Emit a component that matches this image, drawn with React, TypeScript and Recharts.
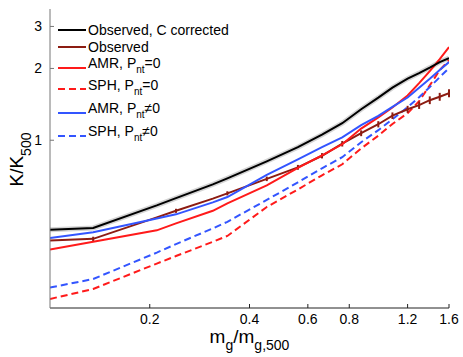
import { LineChart, Line, XAxis, YAxis, Legend, ErrorBar } from 'recharts';

// m_g / m_g,500 sample points
const massRatio = [0.1, 0.135, 0.21, 0.24, 0.31, 0.343, 0.451, 0.56, 0.662, 0.762, 0.869, 0.979, 1.08, 1.2, 1.3, 1.4, 1.5, 1.6];

// K / K500 profiles
const observedCorrected = [0.421, 0.429, 0.533, 0.572, 0.653, 0.692, 0.816, 0.935, 1.055, 1.179, 1.349, 1.508, 1.661, 1.811, 1.912, 2.017, 2.127, 2.211];
const observed = [0.380, 0.386, 0.475, 0.506, 0.569, 0.599, 0.689, 0.770, 0.861, 0.967, 1.070, 1.167, 1.268, 1.349, 1.403, 1.472, 1.522, 1.575];
const observedErr = [0, 0.008, 0, 0.01, 0, 0.012, 0.015, 0.018, 0.022, 0.026, 0.03, 0.035, 0.04, 0.045, 0.05, 0.055, 0.058, 0.06];
const amrThermal = [0.348, 0.375, 0.419, 0.448, 0.506, 0.544, 0.647, 0.766, 0.865, 0.962, 1.119, 1.246, 1.372, 1.541, 1.736, 1.950, 2.189, 2.459];
const sphThermal = [0.216, 0.238, 0.304, 0.327, 0.375, 0.397, 0.525, 0.622, 0.713, 0.793, 0.924, 1.045, 1.17, 1.298, 1.458, 1.699, 1.968, 2.168];
const amrNonThermal = [0.389, 0.411, 0.470, 0.489, 0.549, 0.578, 0.716, 0.832, 0.935, 1.029, 1.156, 1.266, 1.381, 1.510, 1.661, 1.809, 1.968, 2.127];
const sphNonThermal = [0.241, 0.262, 0.338, 0.367, 0.427, 0.455, 0.562, 0.666, 0.763, 0.849, 0.981, 1.102, 1.225, 1.376, 1.516, 1.670, 1.839, 2.007];

const xTicks = [0.2, 0.4, 0.6, 0.8, 1.2, 1.6];
const yTicks = [1, 2, 3];

const data = massRatio.map((x, i) => ({
  x,
  obsC: observedCorrected[i],
  obs: observed[i],
  obsErr: observedErr[i],
  amr0: amrThermal[i],
  sph0: sphThermal[i],
  amr1: amrNonThermal[i],
  sph1: sphNonThermal[i],
}));

const FONT = '"Liberation Sans", Arial, Helvetica, sans-serif';
const BLACK = '#000000';
const BROWN = '#8c1c12';
const RED = '#ff1a1a';
const BLUE = '#3355ff';
const DASH = '7 4';

const sub = (s: string) => (
  <span style={{ fontSize: 10, position: 'relative', top: 5 }}>{s}</span>
);

const legendRows = [
  { label: <>Observed, C corrected</>, color: BLACK, dash: undefined, lineY: 30, textY: 30 },
  { label: <>Observed</>, color: BROWN, dash: undefined, lineY: 47, textY: 47 },
  { label: <>AMR, P{sub('nt')}=0</>, color: RED, dash: undefined, lineY: 68, textY: 63 },
  { label: <>SPH, P{sub('nt')}=0</>, color: RED, dash: DASH, lineY: 89, textY: 85 },
  { label: <>AMR, P{sub('nt')}≠0</>, color: BLUE, dash: undefined, lineY: 113, textY: 108 },
  { label: <>SPH, P{sub('nt')}≠0</>, color: BLUE, dash: DASH, lineY: 136, textY: 131 },
];

const LegendBox = () => (
  <div style={{ position: 'relative', fontFamily: FONT, fontSize: 14, color: '#000' }}>
    {legendRows.map((r, i) => (
      <div key={i}>
        <svg width={28} height={6} style={{ position: 'absolute', left: 58, top: r.lineY - 3 }}>
          <line x1={0} y1={3} x2={28} y2={3} stroke={r.color} strokeWidth={2} strokeDasharray={r.dash} />
        </svg>
        <div style={{ position: 'absolute', left: 88, top: r.textY - 8, lineHeight: '16px', whiteSpace: 'nowrap' }}>
          {r.label}
        </div>
      </div>
    ))}
  </div>
);

const XLabel = ({ viewBox }: any) => (
  <text x={viewBox.x + viewBox.width / 2} y={viewBox.y + 35} textAnchor="middle" fontFamily={FONT} fontSize={19} fill="#000">
    m<tspan dy={7} fontSize={14}>g</tspan>
    <tspan dy={-7}>/m</tspan>
    <tspan dy={7} fontSize={14}>g,500</tspan>
  </text>
);

const YLabel = ({ viewBox }: any) => {
  const cx = 23;
  const cy = viewBox.y + viewBox.height / 2 + 1;
  return (
    <text x={cx} y={cy} textAnchor="middle" transform={`rotate(-90, ${cx}, ${cy})`} fontFamily={FONT} fontSize={19} fill="#000">
      K/K<tspan dy={8} fontSize={14}>500</tspan>
    </text>
  );
};

const EntropyChart = () => {
  return (
    <div style={{ position: 'absolute', left: 0, top: 0, background: '#fff' }}>
      <LineChart width={463} height={357} data={data} margin={{ top: 9, right: 14, left: 0, bottom: 0 }}>
        <XAxis
          dataKey="x"
          type="number"
          scale="log"
          domain={[0.1, 1.6]}
          ticks={xTicks}
          allowDataOverflow
          height={49}
          stroke="#222"
          tickSize={-4}
          tickMargin={10}
          tick={{ fill: '#000', fontSize: 14, fontFamily: FONT }}
          label={<XLabel />}
        />
        <XAxis xAxisId="top" dataKey="x" type="number" scale="log" domain={[0.1, 1.6]} ticks={xTicks}
          allowDataOverflow orientation="top" mirror height={0} tick={false} tickSize={4} stroke="#777" />
        <YAxis
          type="number"
          scale="log"
          domain={[0.198, 3.55]}
          ticks={yTicks}
          allowDataOverflow
          width={50}
          stroke="#777"
          tickSize={-4}
          tickMargin={12}
          tick={{ fill: '#000', fontSize: 14, fontFamily: FONT }}
          label={<YLabel />}
        />
        <YAxis yAxisId="right" type="number" scale="log" domain={[0.198, 3.55]} ticks={yTicks}
          allowDataOverflow orientation="right" mirror width={0} tick={false} tickSize={4} stroke="#777" />
        <Legend layout="horizontal" verticalAlign="middle" align="center" content={<LegendBox />}
          wrapperStyle={{ top: 0, left: 0, width: 0, height: 0 }} />
        <Line dataKey="obsC" stroke="#d4d4d4" strokeWidth={5} dot={false} legendType="none" isAnimationActive={false} />
        <Line dataKey="sph0" stroke={RED} strokeWidth={2} strokeDasharray={DASH} dot={false} isAnimationActive={false} />
        <Line dataKey="sph1" stroke={BLUE} strokeWidth={2} strokeDasharray={DASH} dot={false} isAnimationActive={false} />
        <Line dataKey="obs" stroke={BROWN} strokeWidth={2} dot={false} isAnimationActive={false}>
          <ErrorBar dataKey="obsErr" width={0} stroke={BROWN} strokeWidth={2} direction="y" />
        </Line>
        <Line dataKey="amr0" stroke={RED} strokeWidth={2} dot={false} isAnimationActive={false} />
        <Line dataKey="amr1" stroke={BLUE} strokeWidth={2} dot={false} isAnimationActive={false} />
        <Line dataKey="obsC" stroke={BLACK} strokeWidth={2} dot={false} isAnimationActive={false} />
      </LineChart>
    </div>
  );
};

export default function App() {
  return <EntropyChart />;
}
